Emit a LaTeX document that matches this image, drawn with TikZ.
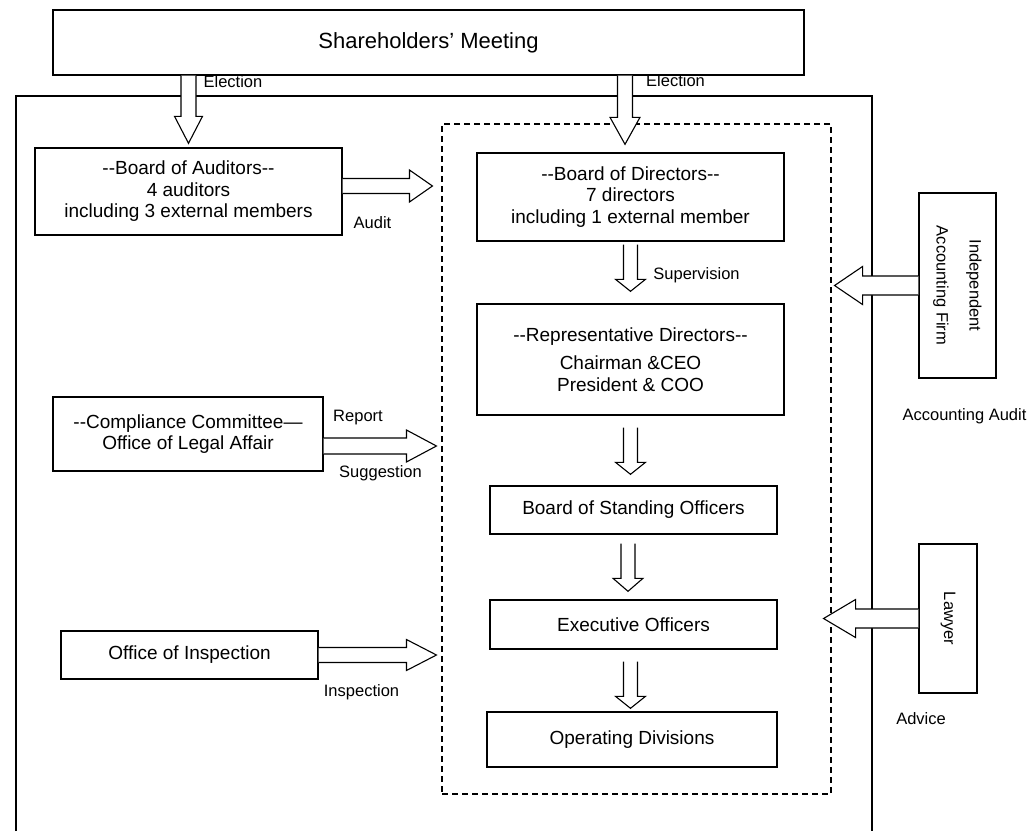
\documentclass[tikz,border=0pt]{standalone}
\usepackage{fontspec}
\setmainfont{Liberation Sans}[Ligatures=TeXOff]
\usetikzlibrary{calc}

\tikzset{
	arrshaft/.store in=\arrshaft,
	arrwing/.store in=\arrwing,
	arrhead/.store in=\arrhead,
	arrshaft=7.5pt, arrwing=15pt, arrhead=27pt,
	fat/.style={draw, fill=white, line width=1.1pt, to path={
		($(\tikztostart)!\arrshaft!90:(\tikztotarget)$)
		-- ($($(\tikztotarget)!\arrhead!(\tikztostart)$)!\arrshaft!90:(\tikztotarget)$)
		-- ($($(\tikztotarget)!\arrhead!(\tikztostart)$)!\arrwing!90:(\tikztotarget)$)
		-- (\tikztotarget)
		-- ($($(\tikztotarget)!\arrhead!(\tikztostart)$)!\arrwing!-90:(\tikztotarget)$)
		-- ($($(\tikztotarget)!\arrhead!(\tikztostart)$)!\arrshaft!-90:(\tikztotarget)$)
		-- ($(\tikztostart)!\arrshaft!-90:(\tikztotarget)$)
	}}
}

\begin{document}
\begin{tikzpicture}[x=1pt, y=-1pt,
	box/.style={draw, line width=1.4pt, align=center, inner sep=0pt, font=\fontsize{19}{21.5}\selectfont},
	lbl/.style={inner sep=0pt, font=\fontsize{16.5}{19}\selectfont, text height=11.8pt, text depth=0pt}]
	\useasboundingbox (0,0) rectangle (1030,831);

	\draw[line width=1.4pt] (16,831) -- (16,96) -- (872,96) -- (872,831);
	\node[draw, dash pattern=on 6pt off 4pt, line width=1.1pt, minimum width=389pt, minimum height=670pt] (mgmt) at (636.5,459) {};

	\node[box, minimum width=751pt, minimum height=65pt, font=\fontsize{22}{26}\selectfont] (sh) at (428.5,42.5) {Shareholders’ Meeting};
	\node[box, minimum width=307pt, minimum height=87pt] (ba) at (188.5,191.5) {--Board of Auditors--\\4 auditors\\including 3 external members};
	\node[box, minimum width=270pt, minimum height=74pt] (comp) at (188,434) {--Compliance Committee—\\Office of Legal Affair};
	\node[box, minimum width=257pt, minimum height=48pt] (insp) at (189.5,655) {Office of Inspection};
	\node[box, minimum width=307pt, minimum height=88pt] (bod) at (630.5,197) {--Board of Directors--\\7 directors\\including 1 external member};
	\node[box, minimum width=307pt, minimum height=111pt] (rep) at (630.5,359.5) {--Representative Directors--\\[7pt]Chairman \&CEO\\President \& COO};
	\node[box, minimum width=287pt, minimum height=48pt] (bsos) at (633.5,510) {Board of Standing Officers};
	\node[box, minimum width=287pt, minimum height=49pt] (exo) at (633.5,624.5) {Executive Officers};
	\node[box, minimum width=290pt, minimum height=55pt] (opd) at (632,739.5) {Operating Divisions};
	\node[box, rotate=-90, minimum width=185pt, minimum height=77pt, font=\fontsize{16.5}{33}\selectfont] (iaf) at (957.5,285.5) {Independent\\Accounting Firm};
	\node[box, rotate=-90, minimum width=149pt, minimum height=58pt, font=\fontsize{16.5}{19}\selectfont] (law) at (948,618.5) {Lawyer};

	\node[lbl] (elec1) at (233,82) {Election};
	\node[lbl] (elec2) at (675.5,81) {Election};
	\node[lbl] (audit) at (372.5,223) {Audit};
	\node[lbl] (superv) at (696.5,274) {Supervision};
	\node[lbl] (report) at (358,416) {Report};
	\node[lbl] (suggest) at (380.5,472) {Suggestion};
	\node[lbl] (inspect) at (361.5,691) {Inspection};
	\node[lbl] (accaudit) at (964.5,415) {Accounting Audit};
	\node[lbl] (advice) at (921,719) {Advice};

	\draw[fat, arrwing=14pt] (sh.south -| ba.north) to ($(ba.north)+(0,-4)$);
	\draw[fat] ($(sh.south -| bod.north)+(-5.5,0)$) to ($(bod.north)+(-5.5,-8)$);
	\draw[fat, arrshaft=7pt, arrhead=12pt] ($(bod.south)+(0,3)$) to ($(rep.north)+(0,-12)$);
	\draw[fat, arrshaft=7pt, arrhead=12pt] ($(rep.south)+(0,12)$) to ($(bsos.north -| rep.south)+(0,-11)$);
	\draw[fat, arrshaft=7pt, arrhead=13pt] ($(bsos.south)+(-5.5,9)$) to ($(exo.north)+(-5.5,-8)$);
	\draw[fat, arrshaft=7pt, arrhead=12pt] ($(exo.south)+(-3,12)$) to ($(opd.north -| exo.south)+(-3,-3)$);
	\draw[fat, arrwing=16pt, arrhead=23pt] ($(ba.east)+(0,-5.5)$) to ($(ba.east -| mgmt.west)+(-9,-5.5)$);
	\draw[fat, arrshaft=8pt, arrwing=16pt, arrhead=30pt] ($(comp.east)+(0,12)$) to ($(comp.east -| mgmt.west)+(-5,12)$);
	\draw[fat, arrwing=15.5pt, arrhead=30pt] (insp.east) to ($(insp.east -| mgmt.west)+(-5,0)$);
	\draw[fat, arrshaft=9.5pt, arrwing=19pt, arrhead=28pt] (iaf.south) to ($(iaf.south -| mgmt.east)+(3,0)$);
	\draw[fat, arrshaft=9.5pt, arrwing=19pt, arrhead=32pt] (law.south) to ($(law.south -| mgmt.east)+(-8,0)$);
\end{tikzpicture}
\end{document}
